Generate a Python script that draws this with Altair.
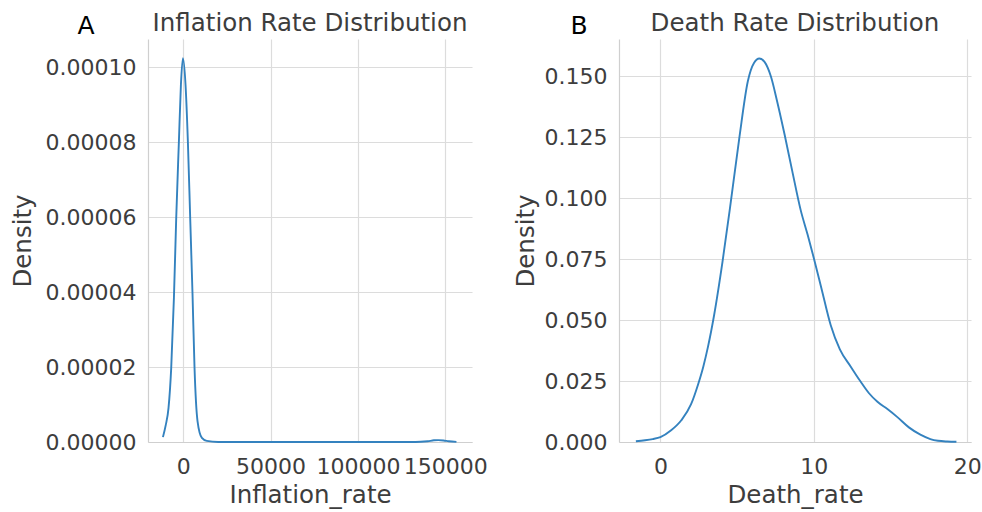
import altair as alt
import pandas as pd

# Kernel density curve of the inflation rate
inflation_x = [-11600, -10000, -8400, -6860, -5310, -4000, -2460, -1310, -170,
               1330, 2670, 4000, 5330, 6480, 8190, 10700, 13500, 20000, 60000,
               100000, 130000, 136000, 140000, 143500, 146000, 149000, 152000, 156400]
inflation_density = [0.13e-5, 0.45e-5, 0.91e-5, 1.98e-5, 3.85e-5, 5.98e-5, 8.03e-5, 9.54e-5, 10.25e-5,
                     9.54e-5, 8.03e-5, 5.98e-5, 3.95e-5, 1.98e-5, 0.56e-5, 0.11e-5, 0.03e-5, 0.0, 0.0,
                     0.0, 0.0, 0.005e-5, 0.02e-5, 0.045e-5, 0.05e-5, 0.04e-5, 0.02e-5, 0.003e-5]

# Kernel density curve of the death rate
death_x = [-1.6, -1.0, -0.5, 0.0, 0.7, 1.35, 2.0, 2.45, 2.8, 3.1, 3.5, 4.05, 4.6, 5.15,
           5.7, 6.1, 6.45, 6.8, 7.2, 7.6, 8.1, 8.6, 9.15, 9.6, 10.0, 10.5, 11.1, 11.7,
           12.4, 13.05, 13.6, 14.15, 14.8, 15.45, 16.2, 16.95, 17.6, 18.1, 18.7, 19.3]
death_density = [0.0003, 0.0007, 0.0012, 0.0020, 0.0048, 0.0088, 0.0155, 0.0235, 0.031, 0.039,
                 0.052, 0.074, 0.099, 0.125, 0.148, 0.1555, 0.1573, 0.1558, 0.150, 0.140,
                 0.126, 0.111, 0.095, 0.085, 0.0755, 0.063, 0.048, 0.038, 0.031, 0.0248,
                 0.020, 0.0165, 0.0135, 0.0102, 0.0060, 0.0030, 0.0012, 0.0005, 0.0002, 0.0001]

panel_letters = ["A", "B"]
panel_titles = ["Inflation Rate Distribution", "Death Rate Distribution"]
x_titles = ["Inflation_rate", "Death_rate"]

inflation_ticks_x = [0, 50000, 100000, 150000]
inflation_ticks_y = [0, 0.00002, 0.00004, 0.00006, 0.00008, 0.0001]
death_ticks_x = [0, 10, 20]
death_ticks_y = [0, 0.025, 0.05, 0.075, 0.1, 0.125, 0.15]

FONT = "DejaVu Sans"
LINE_COLOR = "#3482bf"
TEXT_COLOR = "#3d3d3d"


def panel(xs, ys, letter, title, xtitle, xdom, ydom, xticks, yticks, xfmt, yfmt,
          width, ext, tpad, letter_dx):
    df = pd.DataFrame({"x": xs, "y": ys})
    line = alt.Chart(df).mark_line(
        color=LINE_COLOR, strokeWidth=1.9, interpolate="monotone"
    ).encode(
        x=alt.X("x:Q", title=xtitle,
                scale=alt.Scale(domain=xdom, nice=False, zero=False),
                axis=alt.Axis(values=xticks, format=xfmt, labelFlush=False)),
        y=alt.Y("y:Q", title="Density",
                scale=alt.Scale(domain=ydom, nice=False, zero=False),
                axis=alt.Axis(values=yticks, format=yfmt,
                              minExtent=ext, maxExtent=ext, titlePadding=tpad)),
    )
    # panel letter sits just above the top-left corner of the plot area
    tag = alt.Chart(pd.DataFrame({"t": [letter]})).mark_text(
        font=FONT, fontSize=25, color="#000000", align="center", baseline="alphabetic"
    ).encode(text="t:N", x=alt.value(letter_dx), y=alt.value(-5))
    return alt.layer(line, tag).properties(
        width=width, height=403,
        title=alt.TitleParams(title, anchor="middle", font=FONT, fontSize=24.5,
                              fontWeight="normal", color=TEXT_COLOR, offset=-22),
    )


left = panel(inflation_x, inflation_density, panel_letters[0], panel_titles[0], x_titles[0],
             [-20150, 165300], [0, 0.0001076], inflation_ticks_x, inflation_ticks_y,
             "d", ".5f", 324, 105, 8, -62)
right = panel(death_x, death_density, panel_letters[1], panel_titles[1], x_titles[1],
              [-2.7, 20.25], [0, 0.1653], death_ticks_x, death_ticks_y,
              "d", ".3f", 352, 75, 6, -40)

chart = alt.hconcat(left, right, spacing=25).properties(
    padding={"left": 10, "top": 10, "right": 0, "bottom": 12}
).configure(
    background="white",
).configure_view(
    stroke=None,
).configure_axis(
    labelFont=FONT, labelFontSize=22, labelColor=TEXT_COLOR, labelPadding=12,
    titleFont=FONT, titleFontSize=24.5, titleFontWeight="normal", titleColor=TEXT_COLOR,
    ticks=False, domain=True, domainColor="#cfcfcf", domainWidth=1.2,
    grid=True, gridColor="#dcdcdc", gridWidth=1.2,
).configure_axisX(
    labelPadding=14, titlePadding=6,
)

chart.save("out.html", embed_options={"renderer": "svg", "actions": False})
